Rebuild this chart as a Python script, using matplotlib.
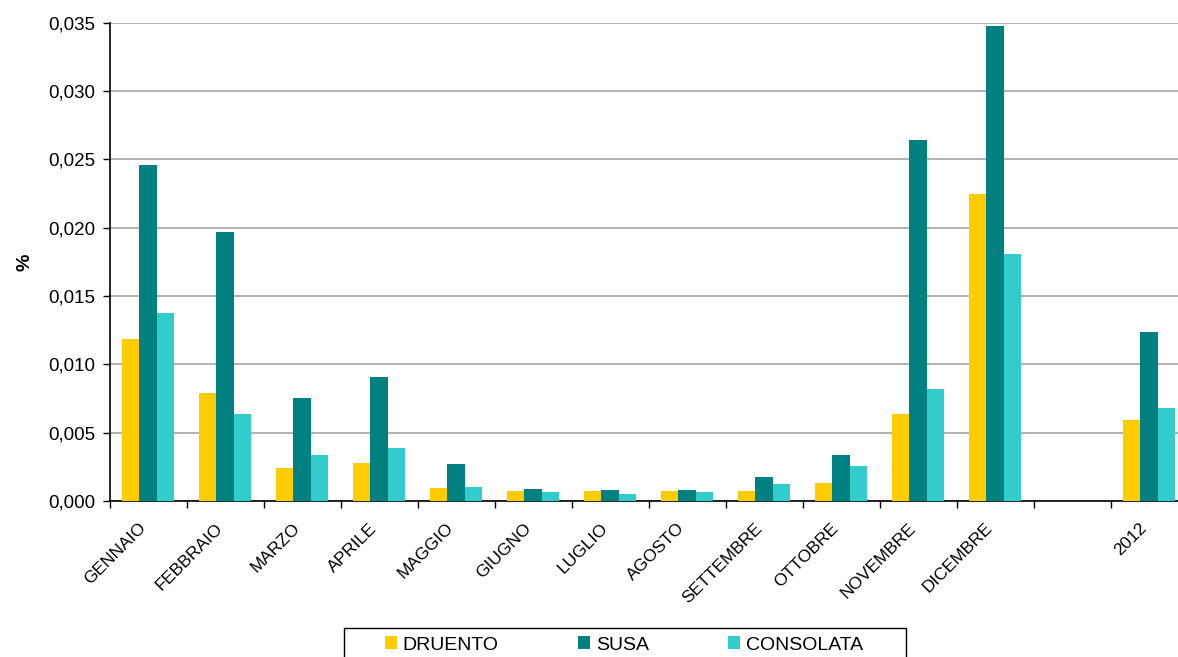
import matplotlib.pyplot as plt
import matplotlib.transforms as mtransforms
from matplotlib.patches import Rectangle
import numpy as np

plt.rcParams['font.family'] = ['Liberation Sans', 'DejaVu Sans']

# monthly values (%), one empty slot before the yearly figure
categories = ['GENNAIO', 'FEBBRAIO', 'MARZO', 'APRILE', 'MAGGIO', 'GIUGNO', 'LUGLIO',
              'AGOSTO', 'SETTEMBRE', 'OTTOBRE', 'NOVEMBRE', 'DICEMBRE', '', '2012']
druento = [0.01185, 0.0079, 0.00241, 0.00278, 0.00095, 0.00073, 0.00073,
           0.00073, 0.00073, 0.00132, 0.00637, 0.02246, 0.0, 0.00593]
susa = [0.02459, 0.01968, 0.00754, 0.00907, 0.0027, 0.00088, 0.0008,
        0.0008, 0.00176, 0.00337, 0.02642, 0.03476, 0.0, 0.01237]
consolata = [0.01376, 0.00637, 0.00337, 0.00388, 0.001, 0.00066, 0.00051,
             0.00066, 0.00124, 0.00256, 0.0082, 0.01807, 0.0, 0.0068]

series = [('DRUENTO', druento, '#FFCC00'),
          ('SUSA', susa, '#008080'),
          ('CONSOLATA', consolata, '#33CCCC')]

W, H = 1178, 657
fig = plt.figure(figsize=(W / 100, H / 100), dpi=100)
ax = fig.add_axes([109.5 / W, 156 / H, 1078 / W, 478.3 / H])

x = np.arange(len(categories)) + 0.5
w = 0.225
for i, (name, vals, col) in enumerate(series):
    ax.bar(x + (i - 1) * w, vals, width=w, color=col, label=name, zorder=3)

ax.set_xlim(0, len(categories))
ax.set_ylim(0, 0.035)
yt = np.arange(0, 0.0351, 0.005)
ax.set_yticks(yt)
ax.set_yticklabels([f'{v:.3f}'.replace('.', ',') for v in yt], fontsize=13.5)
ax.yaxis.grid(True, color='#A6A6A6', linewidth=1.2, zorder=0)
ax.tick_params(axis='y', length=5, width=1, color='black', pad=5.5)

# boundary ticks between categories, labels centred on each slot
ax.set_xticks(range(len(categories) + 1))
ax.set_xticklabels([])
ax.tick_params(axis='x', which='major', length=5, width=1, color='black')
ax.set_xticks(x, minor=True)
ax.set_xticklabels(categories, minor=True, rotation=45, ha='right', va='top',
                   rotation_mode='anchor', fontsize=12.5)
ax.tick_params(axis='x', which='minor', length=0, pad=14)
shift = mtransforms.ScaledTranslation(-10 / 100, 0, fig.dpi_scale_trans)
for lbl in ax.get_xticklabels(minor=True):
    lbl.set_transform(lbl.get_transform() + shift)

for side in ['top', 'right']:
    ax.spines[side].set_visible(False)
for side in ['left', 'bottom']:
    ax.spines[side].set_color('black')
    ax.spines[side].set_linewidth(1.2)

ax.set_ylabel('%', fontsize=14, fontweight='bold', labelpad=10)

# legend box runs off the bottom edge
fig.patches.append(Rectangle((344 / W, 1 - 680 / H), 562 / W, 52 / H,
                             transform=fig.transFigure, fill=False,
                             edgecolor='black', linewidth=1.0))
fig.legend(loc='center left', bbox_to_anchor=(385 / W, 1 - 645 / H),
           ncol=3, frameon=False, fontsize=14,
           handlelength=0.62, handleheight=0.62, handletextpad=0.28,
           columnspacing=4.1, borderpad=0, borderaxespad=0)

fig.savefig('out.png', dpi=100)
